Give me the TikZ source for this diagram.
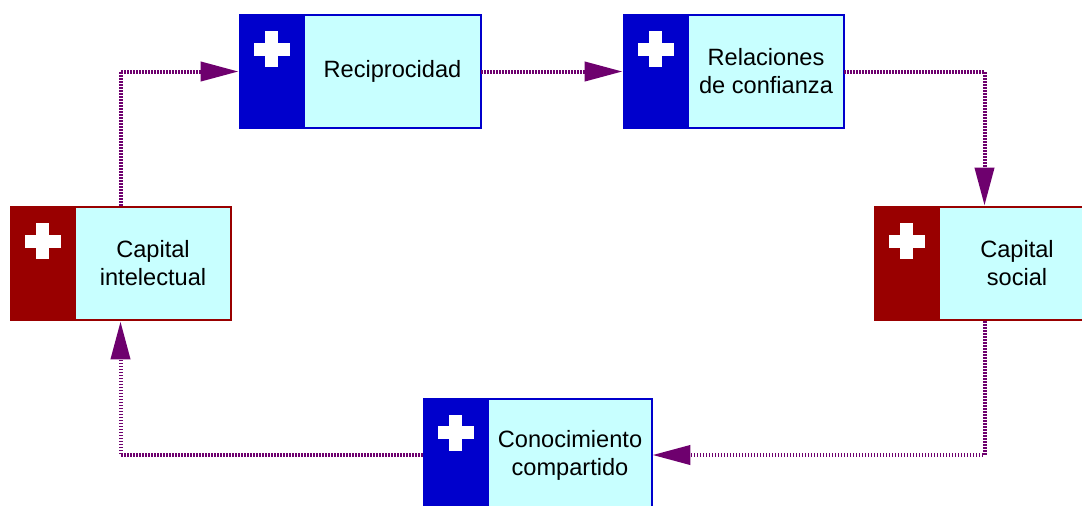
\documentclass[tikz,border=0pt]{standalone}
\usepackage{fontspec}
\setmainfont{Liberation Sans}
\usepackage{tikz}
\usetikzlibrary{arrows.meta,positioning,fit}
\definecolor{tagblue}{HTML}{0000CC}
\definecolor{tagred}{HTML}{990000}
\definecolor{cardfill}{HTML}{C8FFFF}
\definecolor{flowpurple}{HTML}{6E006E}
\newcommand{\plusmark}[1]{%
	\fill[white] ([shift={(-3.25pt,-8.5pt)}]#1.north) rectangle ++(6.5pt,-18pt);
	\fill[white] ([shift={(-9pt,-14.25pt)}]#1.north) rectangle ++(18pt,-6.5pt);}

\begin{document}
\begin{tikzpicture}
			[x=0.5pt, y=-0.5pt,
			card/.style={rectangle, draw, fill=cardfill, line width=1pt, minimum height=56.5pt, inner sep=2pt, outer sep=0pt, align=center, font=\fontsize{11.8}{14}\selectfont},
			tag/.style={rectangle, minimum width=32.5pt, minimum height=57.5pt, inner sep=0pt, outer sep=0pt},
			flow/.style={draw=flowpurple, line width=2pt, dash pattern=on 0.75pt off 0.75pt, -{Triangle[length=19pt, width=9.5pt]}, flowpurple}] 
			\useasboundingbox (0,0) rectangle (1082,505);
          	\node[card, draw=tagblue, minimum width=88.5pt] (rcT) at (392.5, 71.5) {Reciprocidad}; 
          	\node[tag, fill=tagblue, left=0pt of rcT] (rcL) {}; 
          	\node[fit=(rcL)(rcT), inner sep=0pt] (rc) {}; 
          	\node[card, draw=tagblue, minimum width=78pt] (rlT) at (766, 71.5) {Relaciones\\de confianza}; 
          	\node[tag, fill=tagblue, left=0pt of rlT] (rlL) {}; 
          	\node[fit=(rlL)(rlT), inner sep=0pt] (rl) {}; 
          	\node[card, draw=tagred, minimum width=78pt] (ciT) at (153, 263.5) {Capital\\intelectual}; 
          	\node[tag, fill=tagred, left=0pt of ciT] (ciL) {}; 
          	\node[fit=(ciL)(ciT), inner sep=0pt] (ci) {}; 
          	\node[card, draw=tagred, minimum width=78pt] (csT) at (1017, 263.5) {Capital\\social}; 
          	\node[tag, fill=tagred, left=0pt of csT] (csL) {}; 
          	\node[fit=(csL)(csT), inner sep=0pt] (cs) {}; 
          	\node[card, draw=tagblue, minimum width=82pt] (ccT) at (570, 455) {Conocimiento\\compartido}; 
          	\node[tag, fill=tagblue, left=0pt of ccT] (ccL) {}; 
          	\node[fit=(ccL)(ccT), inner sep=0pt] (cc) {}; 
          	\plusmark{rcL} \plusmark{rlL} \plusmark{ciL} \plusmark{csL} \plusmark{ccL}
         	\draw[flow] (ci.north) |- (rc.west); 
         	\draw[flow] (rc.east) -- (rl.west); 
         	\draw[flow] (rl.east) -| (cs.north); 
         	\draw[flow] (cs.south) |- (cc.east); 
         	\draw[flow] (cc.west) -| (ci.south); 
			\end{tikzpicture}
\end{document}
